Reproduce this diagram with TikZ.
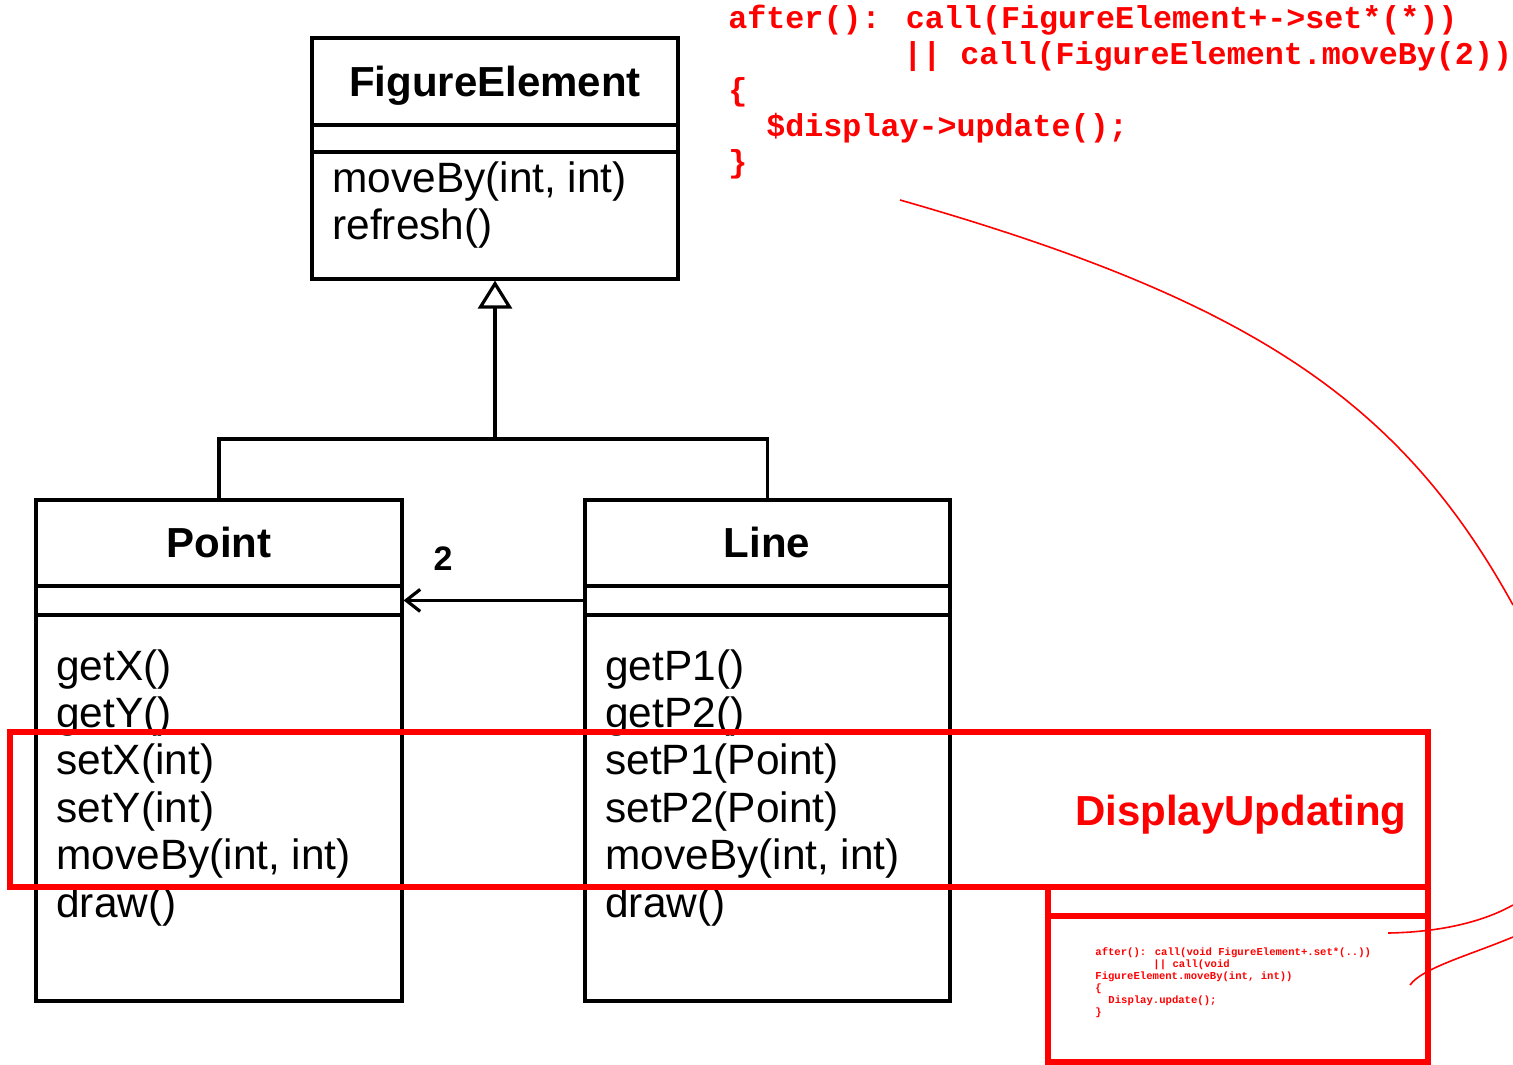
\documentclass[tikz,border=0pt]{standalone}
\usepackage{fontspec}
\setmainfont{Liberation Sans}
\newfontfamily\codefont{Liberation Mono}
\usetikzlibrary{arrows.meta,calc}
\definecolor{ured}{RGB}{255,0,0}
\tikzset{
 cls/.style={draw=black, line width=1.6pt, inner sep=0pt},
 cname/.style={font=\fontsize{21pt}{24pt}\selectfont\bfseries, inner sep=0pt, anchor=base},
 meth/.style={font=\fontsize{21.2pt}{24pt}\selectfont, inner sep=0pt, anchor=base west},
 code/.style={font=\codefont\bfseries\fontsize{15.85pt}{18pt}\selectfont, text=ured, inner sep=0pt, anchor=base west},
 tinycode/.style={font=\codefont\bfseries\fontsize{5.3pt}{6pt}\selectfont, text=ured, inner sep=0pt, anchor=base west},
 redbox/.style={draw=ured, line width=2.6pt, inner sep=0pt},
 redcurve/.style={draw=ured, line width=0.8pt},
 blk/.style={draw=black, line width=1.6pt},
}
\begin{document}
\begin{tikzpicture}[x=0.5pt,y=-0.5pt]
\useasboundingbox (0,0) rectangle (1513,1064);

% ---- FigureElement
\node[cls, minimum width=183pt, minimum height=120.5pt] (fe) at (495,158.5) {};
\draw[blk] (312,125) -- (678,125);
\draw[blk] (312,152) -- (678,152);
\node[cname] (fen) at (495,97) {FigureElement};
\node[meth] (fem1) at (332,193) {moveBy(int, int)};
\node[meth] (fem2) at (332,240) {refresh()};

% ---- Point
\node[cls, minimum width=183pt, minimum height=250.5pt] (pt) at (219,750.5) {};
\draw[blk] (36,586) -- (402,586);
\draw[blk] (36,615) -- (402,615);
\node[cname] (ptn) at (219,557) {Point};
\foreach \t [count=\i from 0] in {getX(),getY(),setX(int),setY(int),{moveBy(int, int)},draw()}
  \node[meth] (ptm\i) at (56,680+47.4*\i) {\t};

% ---- Line
\node[cls, minimum width=182.5pt, minimum height=250.5pt] (ln) at (767.5,750.5) {};
\draw[blk] (585,586) -- (950,586);
\draw[blk] (585,615) -- (950,615);
\node[cname] (lnn) at (767,557) {Line};
\foreach \t [count=\i from 0] in {getP1(),getP2(),setP1(Point),setP2(Point),{moveBy(int, int)},draw()}
  \node[meth] (lnm\i) at (605,680+47.4*\i) {\t};

% ---- generalization
\coordinate (j) at (495,439);
\draw[blk] (pt.north) |- (j);
\draw[blk] (ln.north) |- (j);
\draw[blk, -{Triangle[open, length=14pt, width=17pt, line width=1.6pt]}] (j) -- (fe.south);

% ---- association
\draw[blk, -{Straight Barb[length=7pt, width=11pt, line width=1.6pt]}] ($(ln.north west)+(0,102)$) -- ($(pt.north east)+(0,102)$);
\node[font=\fontsize{17pt}{20pt}\selectfont\bfseries, inner sep=0pt, anchor=base] (mult) at (443,570) {2};

% ---- aspect
\node[redbox, minimum width=709pt, minimum height=77.5pt] (du) at (719,809.5) {};
\node[font=\fontsize{21pt}{24pt}\selectfont\bfseries, text=ured, inner sep=0pt, anchor=base east] (dun) at (1407,825) {DisplayUpdating};

\node[redbox, minimum width=190pt, minimum height=87.5pt] (adv) at (1238,974.5) {};
\draw[draw=ured, line width=2.6pt] (1048,916) -- (1428,916);

\node[tinycode] (s1) at (1095,955) {after(): call(void FigureElement+.set*(..))};
\node[tinycode] (s2) at (1153,967) {|| call(void};
\node[tinycode] (s3) at (1095,979) {FigureElement.moveBy(int, int))};
\node[tinycode] (s4) at (1095,991) {\{};
\node[tinycode] (s5) at (1108,1003) {Display.update();};
\node[tinycode] (s6) at (1095,1015) {\}};

% ---- top code
\node[code] (c1) at (728,29) {after(): call(FigureElement+->set*(*))};
\node[code] (c2) at (903,65) {|| call(FigureElement.moveBy(2))};
\node[code] (c3) at (728,101) {\{};
\node[code] (c4) at (766,137) {\$display->update();};
\node[code] (c5) at (728,173) {\}};

% ---- red curves
\draw[redcurve] (900,200) .. controls (1250,300) and (1400,400) .. (1513,605);
\draw[redcurve] (1388,933) .. controls (1450,932) and (1490,918) .. (1513,905);
\draw[redcurve] (1410,985) .. controls (1422,968) and (1470,955) .. (1513,937);
\end{tikzpicture}
\end{document}
